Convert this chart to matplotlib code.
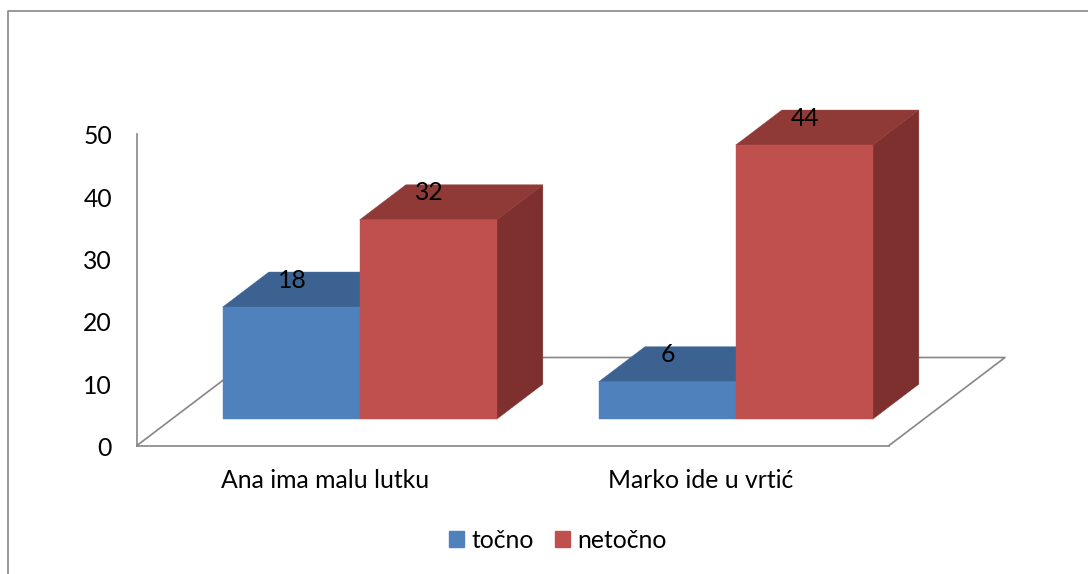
import matplotlib
matplotlib.use("Agg")
import matplotlib.pyplot as plt
from matplotlib.lines import Line2D
from matplotlib.patches import Patch, Polygon
from matplotlib.transforms import ScaledTranslation

categories = ["Ana ima malu lutku", "Marko ide u vrtić"]
series_names = ["točno", "netočno"]
tocno = [18, 6]
netocno = [32, 44]
yticks = [0, 10, 20, 30, 40, 50]

FRONT = ["#4F81BD", "#C0504D"]
TOP = ["#3B6290", "#903A38"]
SIDE = ["#2F4E73", "#7D302E"]
GRAY = "#868686"
W, H = 1088, 574
plt.rcParams["font.family"] = ["Lato", "DejaVu Sans"]
FS = 17.8

fig = plt.figure(figsize=(W / 100, H / 100), dpi=100, facecolor="white")
ax = fig.add_axes([137.0 / W, 1 - 445.5 / H, 752 / W, 311.5 / H])
ax.set_xlim(0, 2)
ax.set_ylim(0, 50)
ax.set_facecolor("none")
for s in ("top", "right"):
    ax.spines[s].set_visible(False)
for s in ("left", "bottom"):
    ax.spines[s].set_color(GRAY)
    ax.spines[s].set_linewidth(1.2)
ax.set_yticks(yticks)
ax.set_xticks([0.5, 1.5], categories)
ax.tick_params(axis="both", length=0, labelsize=FS, labelcolor="black")
ax.tick_params(axis="y", pad=18)
ax.tick_params(axis="x", pad=17)
down = ScaledTranslation(0, -1 / 100, fig.dpi_scale_trans)
for lab in ax.get_yticklabels():
    lab.set_transform(lab.get_transform() + down)

# oblique floor depth, in data units per unit of depth
DX = 116 / 376
DY = 88 / (311.5 / 50)
BAR_W = 137 / 376
D0, D1 = 0.299, 0.697


def proj(x, y, d):
    return (x + d * DX, y + d * DY)


# floor outline
ax.add_line(Line2D(*zip(proj(0, 0, 0), proj(0, 0, 1), proj(2, 0, 1), proj(2, 0, 0)),
                   color=GRAY, lw=1.2, clip_on=False, zorder=1))


def bar3d(x0, value, i):
    x1 = x0 + BAR_W
    lo, hi = D0, D1
    side = [proj(x1, 0, lo), proj(x1, 0, hi), proj(x1, value, hi), proj(x1, value, lo)]
    top = [proj(x0, value, lo), proj(x1, value, lo), proj(x1, value, hi), proj(x0, value, hi)]
    front = [proj(x0, 0, lo), proj(x1, 0, lo), proj(x1, value, lo), proj(x0, value, lo)]
    for pts, c in ((side, SIDE[i]), (top, TOP[i]), (front, FRONT[i])):
        ax.add_patch(Polygon(pts, closed=True, facecolor=c, edgecolor=c, lw=0.3,
                             clip_on=False, zorder=2))
    cx, cy = proj(x0 + BAR_W / 2, value, lo)
    ax.annotate(str(value), (cx, cy), xytext=(1, 27), textcoords="offset pixels",
                ha="center", va="center", fontsize=FS, color="black", zorder=5,
                annotation_clip=False)


for k, (a, b) in enumerate(zip(tocno, netocno)):
    bar3d(k + 0.5 - BAR_W, a, 0)
    bar3d(k + 0.5, b, 1)

handles = [Patch(facecolor=FRONT[0], edgecolor=FRONT[0]), Patch(facecolor=FRONT[1], edgecolor=FRONT[1])]
fig.legend(handles, series_names, loc="center", bbox_to_anchor=(557.5 / W, 1 - 540 / H),
           ncol=2, frameon=False, fontsize=FS, handlelength=0.62, handleheight=0.62,
           handletextpad=0.28, columnspacing=0.85, borderpad=0)

# chart-area border (clipped at the right and bottom of the picture)
fig.add_artist(Line2D([7.5 / W, 7.5 / W, 1], [0, 1 - 10.5 / H, 1 - 10.5 / H],
                      transform=fig.transFigure, color=GRAY, lw=1.2))
fig.savefig("out.png", dpi=100, facecolor="white")
